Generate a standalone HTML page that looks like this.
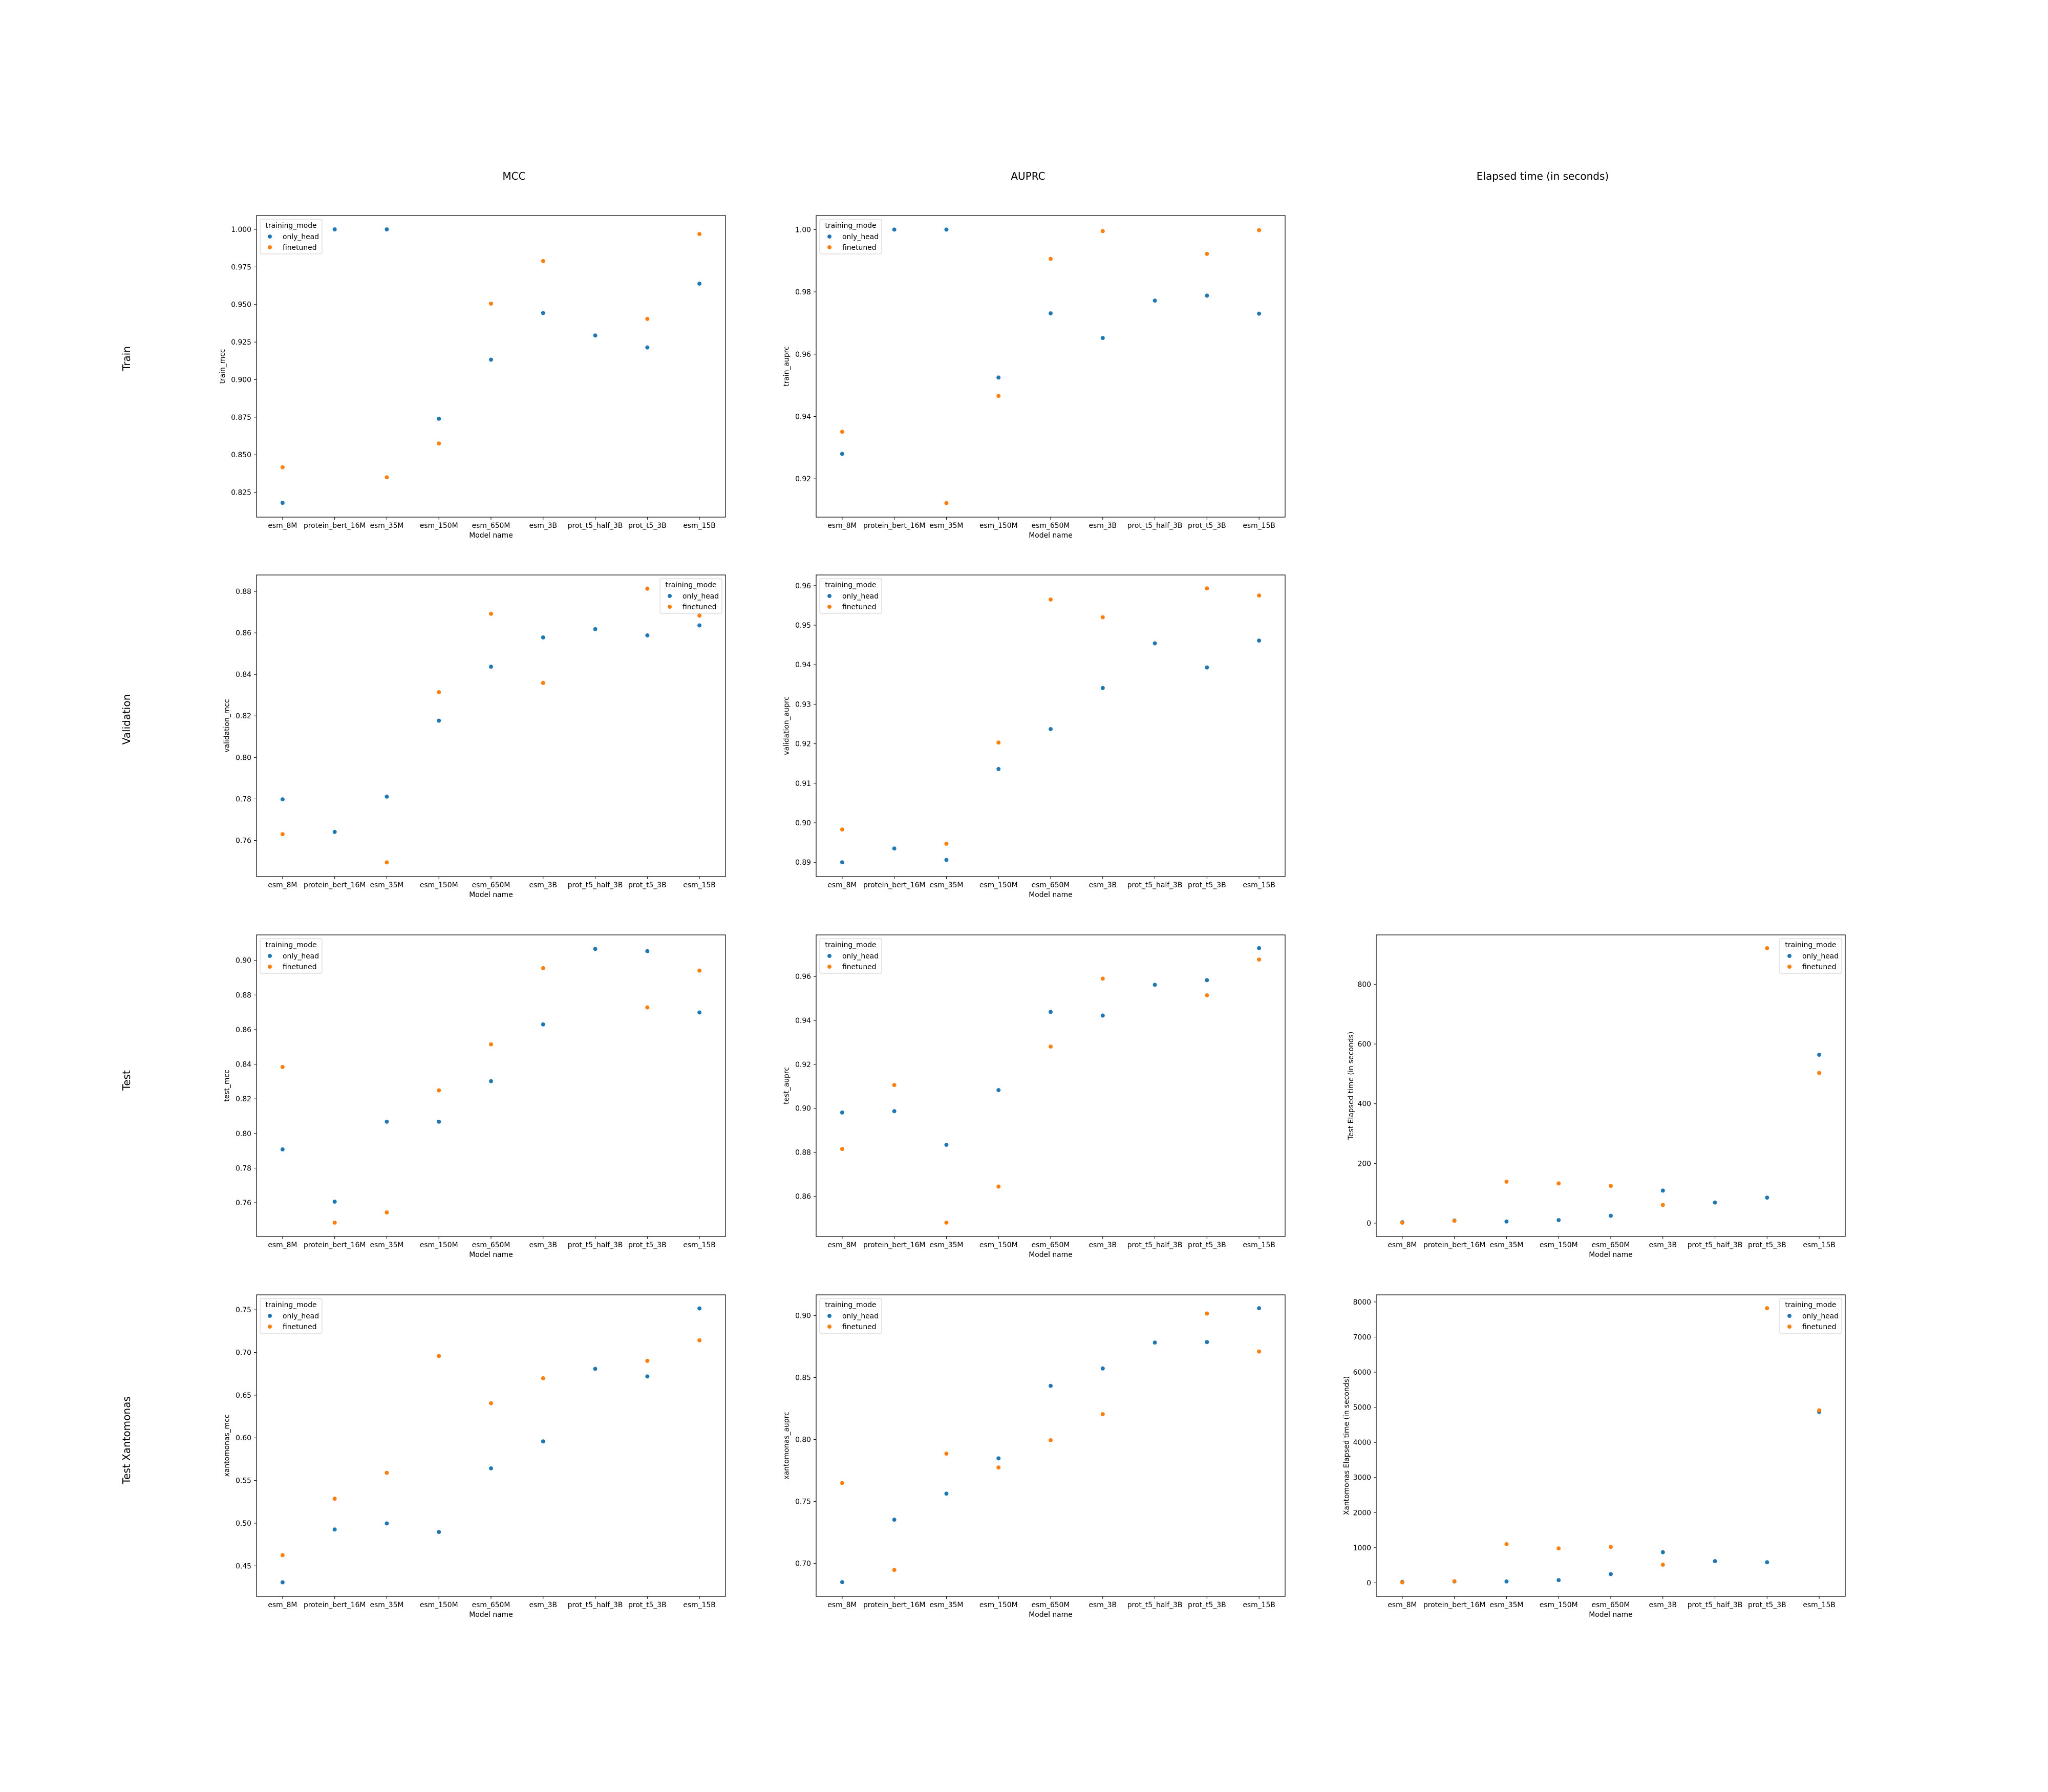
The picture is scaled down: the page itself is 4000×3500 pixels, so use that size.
<!DOCTYPE html>
<html><head><meta charset="utf-8"><style>
html,body{margin:0;padding:0;background:#fff;}
svg{display:block;font-family:"DejaVu Sans","Liberation Sans",sans-serif;}
</style></head><body>
<svg id="fig" width="4000" height="3500" viewBox="0 0 4000 3500" xmlns="http://www.w3.org/2000/svg">
<rect x="0" y="0" width="4000" height="3500" fill="#fff"/>
<g id="titles">
<text x="1004" y="351" font-size="20" text-anchor="middle">MCC</text>
<text x="2008" y="351" font-size="20" text-anchor="middle">AUPRC</text>
<text x="3013" y="351" font-size="20" text-anchor="middle">Elapsed time (in seconds)</text>
<text transform="translate(254,700) rotate(-90)" font-size="20" text-anchor="middle">Train</text>
<text transform="translate(254,1405) rotate(-90)" font-size="20" text-anchor="middle">Validation</text>
<text transform="translate(254,2110) rotate(-90)" font-size="20" text-anchor="middle">Test</text>
<text transform="translate(254,2813) rotate(-90)" font-size="20" text-anchor="middle">Test Xantomonas</text>
</g>
</svg>
<script>
const categories = ["esm_8M","protein_bert_16M","esm_35M","esm_150M","esm_650M","esm_3B","prot_t5_half_3B","prot_t5_3B","esm_15B"];
const seriesNames = ["only_head","finetuned"];

const trainMccHead = [0.818,1.000,1.000,0.874,0.9133,0.9443,0.9294,0.9214,0.9639];
const trainMccFine = [0.8417,null,0.835,0.8575,0.9506,0.9789,null,0.9404,0.9969];
const trainMccTicks = ["0.825","0.850","0.875","0.900","0.925","0.950","0.975","1.000"];

const trainAuprcHead = [0.9280,1.0,1.0,0.9525,0.9731,0.9652,0.9772,0.9788,0.9730];
const trainAuprcFine = [0.9351,null,0.9122,0.9466,0.9906,0.9995,null,0.9922,0.9998];
const trainAuprcTicks = ["0.92","0.94","0.96","0.98","1.00"];

const valMccHead = [0.7798,0.7641,0.7811,0.8177,0.8437,0.8578,0.8618,0.8588,0.8636];
const valMccFine = [0.7630,null,0.7494,0.8314,0.8692,0.8359,null,0.8813,0.8683];
const valMccTicks = ["0.76","0.78","0.80","0.82","0.84","0.86","0.88"];

const valAuprcHead = [0.8900,0.8935,0.8906,0.9136,0.9237,0.9341,0.9454,0.9393,0.9461];
const valAuprcFine = [0.8983,null,0.8947,0.9203,0.9565,0.9520,null,0.9593,0.9575];
const valAuprcTicks = ["0.89","0.90","0.91","0.92","0.93","0.94","0.95","0.96"];

const testMccHead = [0.7908,0.7606,0.8068,0.8068,0.8302,0.8630,0.9066,0.9053,0.8699];
const testMccFine = [0.8384,0.7485,0.7544,0.8249,0.8515,0.8955,null,0.8728,0.8941];
const testMccTicks = ["0.76","0.78","0.80","0.82","0.84","0.86","0.88","0.90"];

const testAuprcHead = [0.8981,0.8987,0.8834,0.9083,0.9439,0.9422,0.9562,0.9583,0.9729];
const testAuprcFine = [0.8815,0.9106,0.8480,0.8644,0.9281,0.9590,null,0.9514,0.9677];
const testAuprcTicks = ["0.86","0.88","0.90","0.92","0.94","0.96"];

const testTimeHead = [3,8.5,5.4,10,24.6,109,69,85.5,564];
const testTimeFine = [1.5,7.7,139,133,125,61,null,921,503];
const testTimeTicks = ["0","200","400","600","800"];

const xanMccHead = [0.4307,0.4926,0.4997,0.4897,0.5642,0.5958,0.6808,0.6719,0.7516];
const xanMccFine = [0.4625,0.5287,0.5590,0.6959,0.6405,0.6698,null,0.6902,0.7142];
const xanMccTicks = ["0.45","0.50","0.55","0.60","0.65","0.70","0.75"];

const xanAuprcHead = [0.6849,0.7353,0.7563,0.7848,0.8433,0.8573,0.8782,0.8786,0.9059];
const xanAuprcFine = [0.7648,0.6948,0.7886,0.7774,0.7994,0.8204,null,0.9016,0.8710];
const xanAuprcTicks = ["0.70","0.75","0.80","0.85","0.90"];

const xanTimeHead = [25,38,38,76,248,871,616,585,4867];
const xanTimeFine = [13,44,1099,979,1023,515,null,7822,4912];
const xanTimeTicks = ["0","1000","2000","3000","4000","5000","6000","7000","8000"];

const yDomains = [[0.8085,1.0092],[0.9077,1.0045],[0.7426,0.8879],[0.8864,0.9627],[0.7405,0.9147],[0.8417,0.9789],[-44.7,965.5],[0.4142,0.7675],[0.6734,0.9167],[-388,8203]];

const NS = "http://www.w3.org/2000/svg";
const svg = document.getElementById('fig');
const COLORS = ["#1f77b4","#ff7f0e"];
const colLeft = [501,1594,2688], rowTop = [421,1123,1826,2529];
const W = 916, H = 589;

function mk(tag, attrs, parent){
  const e = document.createElementNS(NS, tag);
  for (const k in attrs) e.setAttribute(k, attrs[k]);
  (parent||svg).appendChild(e);
  return e;
}

const panels = [
  {r:0,c:0,name:"train-mcc",label:"train_mcc",head:trainMccHead,fine:trainMccFine,ticks:trainMccTicks,dom:yDomains[0],leg:"left"},
  {r:0,c:1,name:"train-auprc",label:"train_auprc",head:trainAuprcHead,fine:trainAuprcFine,ticks:trainAuprcTicks,dom:yDomains[1],leg:"left"},
  {r:1,c:0,name:"validation-mcc",label:"validation_mcc",head:valMccHead,fine:valMccFine,ticks:valMccTicks,dom:yDomains[2],leg:"right"},
  {r:1,c:1,name:"validation-auprc",label:"validation_auprc",head:valAuprcHead,fine:valAuprcFine,ticks:valAuprcTicks,dom:yDomains[3],leg:"left"},
  {r:2,c:0,name:"test-mcc",label:"test_mcc",head:testMccHead,fine:testMccFine,ticks:testMccTicks,dom:yDomains[4],leg:"left"},
  {r:2,c:1,name:"test-auprc",label:"test_auprc",head:testAuprcHead,fine:testAuprcFine,ticks:testAuprcTicks,dom:yDomains[5],leg:"left"},
  {r:2,c:2,name:"test-elapsed-time",label:"Test Elapsed time (in seconds)",head:testTimeHead,fine:testTimeFine,ticks:testTimeTicks,dom:yDomains[6],leg:"right"},
  {r:3,c:0,name:"xantomonas-mcc",label:"xantomonas_mcc",head:xanMccHead,fine:xanMccFine,ticks:xanMccTicks,dom:yDomains[7],leg:"left"},
  {r:3,c:1,name:"xantomonas-auprc",label:"xantomonas_auprc",head:xanAuprcHead,fine:xanAuprcFine,ticks:xanAuprcTicks,dom:yDomains[8],leg:"left"},
  {r:3,c:2,name:"xantomonas-elapsed-time",label:"Xantomonas Elapsed time (in seconds)",head:xanTimeHead,fine:xanTimeFine,ticks:xanTimeTicks,dom:yDomains[9],leg:"right"}
];

panels.forEach(p => {
  const L = colLeft[p.c], T = rowTop[p.r], B = T + H, R = L + W;
  const g = mk('g', {});
  
  
  const xs = i => L + (i + 0.5) / categories.length * W;
  const ys = v => B - (v - p.dom[0]) / (p.dom[1] - p.dom[0]) * H;

  // y ticks
  let maxW = 0;
  p.ticks.forEach(t => {
    const y = ys(parseFloat(t));
    const tk = mk('line', {x1:L-5, x2:L, y1:y, y2:y, stroke:'#000', 'stroke-width':1}, g);
    
    
    const tx = mk('text', {x:L-10, y:y+5, 'font-size':13.9, 'text-anchor':'end'}, g);
    
    
    tx.textContent = t;
    maxW = Math.max(maxW, t.length * 8.4);
  });
  // x ticks
  categories.forEach((c, i) => {
    const x = xs(i);
    const tk = mk('line', {x1:x, x2:x, y1:B, y2:B+5, stroke:'#000', 'stroke-width':1}, g);
    
    
    const tx = mk('text', {x:x, y:B+21, 'font-size':13.9, 'text-anchor':'middle'}, g);
    
    
    tx.textContent = c;
  });
  const xl = mk('text', {x:L+W/2, y:B+40, 'font-size':13.9, 'text-anchor':'middle'}, g);
  
  
  xl.textContent = 'Model name';
  const yx = L - 14 - maxW - 6;
  const yl = mk('text', {transform:`translate(${yx},${T+H/2}) rotate(-90)`, 'font-size':13.9, 'text-anchor':'middle'}, g);
  
  
  yl.textContent = p.label;

  // points
  [p.head, p.fine].forEach((arr, s) => {
    arr.forEach((v, i) => {
      if (v === null) return;
      const pt = mk('circle', {cx:xs(i), cy:ys(v), r:4, fill:COLORS[s]}, g);
      
      
    });
  });

  // frame
  const fr = mk('rect', {x:L, y:T, width:W, height:H, fill:'none', stroke:'#000', 'stroke-width':1.2}, g);
  
  

  // legend
  const lw = 121, lh = 68;
  const lx = p.leg === 'left' ? L + 7 : R - 7 - lw;
  const ly = T + 7;
  const lg = mk('g', {}, g);
  
  
  mk('rect', {x:lx, y:ly, width:lw, height:lh, rx:3, fill:'#fff', 'fill-opacity':0.8, stroke:'#ccc', 'stroke-width':1}, lg);
  const lt = mk('text', {x:lx+lw/2, y:ly+17, 'font-size':13.9, 'text-anchor':'middle'}, lg);
  
  
  lt.textContent = 'training_mode';
  seriesNames.forEach((n, s) => {
    const ey = ly + 34 + s * 21;
    const m = mk('circle', {cx:lx+19, cy:ey, r:4, fill:COLORS[s]}, lg);
    
    
    const et = mk('text', {x:lx+44, y:ey+5, 'font-size':13.9}, lg);
    
    
    et.textContent = n;
  });
});
</script>
</body></html>
